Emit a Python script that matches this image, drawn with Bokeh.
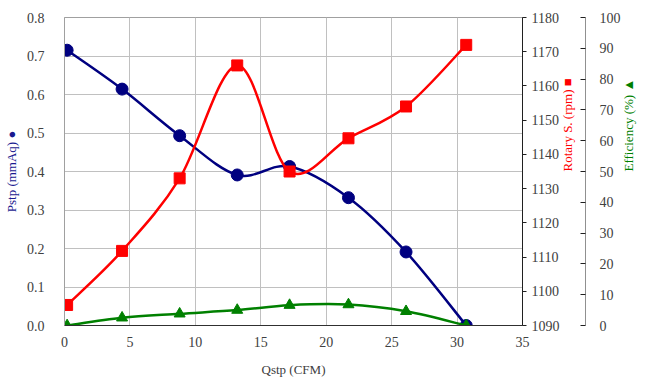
import math
from bokeh.plotting import figure
from bokeh.models import Range1d, LinearAxis, SingleIntervalTicker, NumeralTickFormatter, ColumnDataSource
from bokeh.embed import file_html
from bokeh.resources import INLINE

# ---- data ----
q_cfm = [0.2, 4.4, 8.8, 13.2, 17.2, 21.7, 26.1, 30.7]
pstp = [0.715, 0.614, 0.493, 0.391, 0.413, 0.332, 0.191, 0.0]
rpm = [1096.0, 1111.8, 1133.0, 1166.0, 1135.0, 1144.7, 1154.0, 1172.0]
eff = [0.0, 2.5, 3.8, 5.0, 6.6, 6.8, 4.6, 0.0]

x_ticks_interval = 5
FONT = "Liberation Serif"
NAVY = "#000080"
RED = "#ff0000"
GREEN = "#008000"
TICK_COLOR = "#404040"


def smooth_segments(xs, ys, t=1.0 / 6.0):
    n = len(xs)
    d = dict(x0=[], y0=[], x1=[], y1=[], cx0=[], cy0=[], cx1=[], cy1=[])
    for i in range(n - 1):
        pm = max(i - 1, 0)
        pp = min(i + 2, n - 1)
        d["x0"].append(xs[i]); d["y0"].append(ys[i])
        d["x1"].append(xs[i + 1]); d["y1"].append(ys[i + 1])
        d["cx0"].append(xs[i] + (xs[i + 1] - xs[pm]) * t)
        d["cy0"].append(ys[i] + (ys[i + 1] - ys[pm]) * t)
        d["cx1"].append(xs[i + 1] - (xs[pp] - xs[i]) * t)
        d["cy1"].append(ys[i + 1] - (ys[pp] - ys[i]) * t)
    return ColumnDataSource(d)


p = figure(frame_width=458, frame_height=308, output_backend="svg", toolbar_location=None,
           x_range=Range1d(0, 35), y_range=Range1d(0, 0.8),
           min_border_left=58, min_border_top=17, min_border_right=100, min_border_bottom=46)
p.extra_y_ranges = {"rpm": Range1d(1090, 1180), "eff": Range1d(0, 100)}
p.background_fill_color = "white"
p.border_fill_color = "white"
p.outline_line_color = "#a0a0a0"

# grids
p.xgrid.ticker = SingleIntervalTicker(interval=x_ticks_interval)
p.ygrid.ticker = SingleIntervalTicker(interval=0.1)
for g in (p.xgrid, p.ygrid):
    g.grid_line_color = "#c0c0c0"
    g.grid_line_width = 1

# x axis
xa = p.xaxis[0]
xa.ticker = SingleIntervalTicker(interval=x_ticks_interval)
xa.axis_label = "Qstp (CFM)"
xa.axis_line_color = "#303030"
xa.minor_tick_line_color = None
xa.major_label_standoff = 5
xa.axis_label_standoff = 12

# left axis
ya = p.yaxis[0]
ya.ticker = SingleIntervalTicker(interval=0.1)
ya.formatter = NumeralTickFormatter(format="0.0")
ya.axis_label = "Pstp (mmAq) \u25CF"
ya.axis_label_text_color = "#1a1a90"
ya.axis_line_color = "#a0a0a0"
ya.minor_tick_line_color = None
ya.major_label_standoff = 14
ya.axis_label_standoff = 5

# right axes
ra = LinearAxis(y_range_name="rpm", ticker=SingleIntervalTicker(interval=10))
ra.axis_label = "Rotary S. (rpm) \u25A0"
ra.axis_label_text_color = RED
ra.axis_line_color = "#202020"
ra.major_tick_in = 0
ra.major_tick_out = 4
ra.minor_tick_line_color = None
ra.major_label_standoff = 5
ra.axis_label_standoff = 5
p.add_layout(ra, "right")

ea = LinearAxis(y_range_name="eff", ticker=SingleIntervalTicker(interval=10))
ea.axis_label = "Efficiency (%) \u25B2"
ea.axis_label_text_color = GREEN
ea.axis_line_color = "#909090"
ea.major_tick_in = 5
ea.major_tick_out = 0
ea.minor_tick_line_color = None
ea.major_label_standoff = 10
ea.axis_label_standoff = 5
p.add_layout(ea, "right")

for ax in (xa, ya, ra, ea):
    ax.major_label_text_font = FONT
    ax.major_label_text_font_size = "14px"
    ax.major_label_text_color = TICK_COLOR
    ax.axis_label_text_font = FONT
    ax.axis_label_text_font_size = "13px"
    ax.axis_label_text_font_style = "normal"
    ax.major_tick_line_color = None if ax in (xa, ya) else "#202020"
xa.axis_label_text_color = TICK_COLOR

for ax in (ra, ea):
    ax.axis_label_orientation = math.pi / 2

# series
p.bezier("x0", "y0", "x1", "y1", "cx0", "cy0", "cx1", "cy1", source=smooth_segments(q_cfm, pstp),
         line_color=NAVY, line_width=2.5)
p.scatter(q_cfm, pstp, marker="circle", size=12, fill_color=NAVY, line_color=NAVY)

p.bezier("x0", "y0", "x1", "y1", "cx0", "cy0", "cx1", "cy1", source=smooth_segments(q_cfm, rpm),
         line_color=RED, line_width=2.5, y_range_name="rpm")
p.scatter(q_cfm, rpm, marker="square", size=11, fill_color=RED, line_color=RED, y_range_name="rpm")

p.bezier("x0", "y0", "x1", "y1", "cx0", "cy0", "cx1", "cy1", source=smooth_segments(q_cfm, eff),
         line_color=GREEN, line_width=2.5, y_range_name="eff")
p.scatter(q_cfm, eff, marker="triangle", size=11, fill_color=GREEN, line_color=GREEN, y_range_name="eff")

open("out.html", "w").write(file_html(p, INLINE))
